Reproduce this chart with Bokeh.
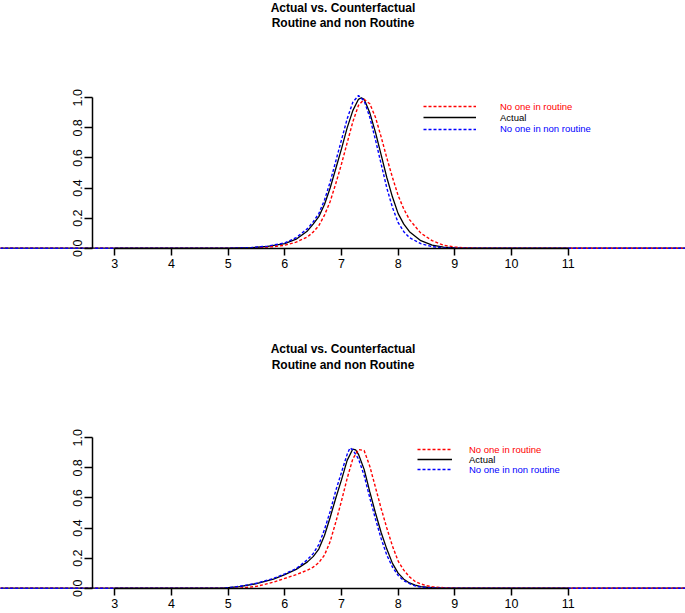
from bokeh.plotting import figure
from bokeh.models import (LinearAxis, FixedTicker, PrintfTickFormatter, Legend,
                          LegendItem, Label, Range1d)
from bokeh.layouts import column
from bokeh.embed import file_html
from bokeh.resources import INLINE

TITLE_1 = "Actual vs. Counterfactual"
TITLE_2 = "Routine and non Routine"
LABEL_RED = "No one in routine"
LABEL_BLACK = "Actual"
LABEL_BLUE = "No one in non routine"
X_TICKS = [3, 4, 5, 6, 7, 8, 9, 10, 11]
Y_TICKS = [0.0, 0.2, 0.4, 0.6, 0.8, 1.0]

# ---- top panel
top_actual_x = [0.8, 5.0, 5.4, 5.7, 6.0, 6.2, 6.4, 6.5, 6.6, 6.7, 6.8, 6.9, 7.0, 7.1, 7.2, 7.3, 7.35, 7.4, 7.5, 7.6,
                7.7, 7.8, 7.9, 8.0, 8.1, 8.2, 8.4, 8.6, 8.8, 9.0, 9.2, 13.2]
top_actual_y = [0, 0, 0.003, 0.012, 0.03, 0.06, 0.115, 0.16, 0.21, 0.29, 0.40, 0.53, 0.66, 0.80, 0.915, 0.99, 1.0, 0.99, 0.90, 0.77,
                0.62, 0.47, 0.34, 0.23, 0.16, 0.11, 0.05, 0.02, 0.007, 0.002, 0, 0]
top_blue_x = [0.8, 5.0, 5.4, 5.7, 6.0, 6.2, 6.4, 6.5, 6.6, 6.7, 6.8, 6.9, 7.0, 7.1, 7.2, 7.3, 7.4, 7.5, 7.6, 7.7,
              7.8, 7.9, 8.0, 8.1, 8.2, 8.4, 8.6, 8.8, 9.0, 13.2]
top_blue_y = [0, 0, 0.004, 0.014, 0.035, 0.07, 0.13, 0.175, 0.23, 0.32, 0.44, 0.58, 0.72, 0.86, 0.97, 1.015, 0.98, 0.87, 0.72, 0.56,
              0.40, 0.27, 0.17, 0.11, 0.07, 0.03, 0.01, 0.003, 0, 0]
top_red_x = [0.8, 5.0, 5.5, 5.8, 6.0, 6.2, 6.4, 6.5, 6.6, 6.7, 6.8, 6.9, 7.0, 7.1, 7.2, 7.3, 7.4, 7.5, 7.6, 7.7,
             7.8, 7.9, 8.0, 8.1, 8.2, 8.4, 8.6, 8.8, 9.0, 9.2, 9.4, 13.2]
top_red_y = [0, 0, 0.003, 0.01, 0.02, 0.04, 0.075, 0.107, 0.15, 0.22, 0.31, 0.43, 0.56, 0.70, 0.84, 0.95, 0.99, 0.96, 0.87, 0.74,
             0.60, 0.47, 0.35, 0.26, 0.19, 0.10, 0.05, 0.02, 0.008, 0.002, 0, 0]

# ---- bottom panel
bot_actual_x = [0.8, 4.9, 5.2, 5.5, 5.8, 6.0, 6.2, 6.4, 6.5, 6.6, 6.7, 6.8, 6.9, 7.0, 7.1, 7.2, 7.25, 7.3, 7.4, 7.5,
                7.6, 7.7, 7.8, 7.9, 8.0, 8.1, 8.2, 8.3, 8.4, 8.6, 8.8, 13.2]
bot_actual_y = [0, 0, 0.01, 0.03, 0.06, 0.09, 0.125, 0.175, 0.21, 0.26, 0.35, 0.47, 0.60, 0.72, 0.85, 0.925, 0.92, 0.89, 0.79, 0.64,
                0.50, 0.37, 0.26, 0.165, 0.10, 0.06, 0.035, 0.02, 0.01, 0.003, 0, 0]
bot_blue_x = [0.8, 4.9, 5.2, 5.5, 5.8, 6.0, 6.2, 6.4, 6.5, 6.6, 6.7, 6.8, 6.9, 7.0, 7.1, 7.15, 7.2, 7.3, 7.4, 7.5,
              7.6, 7.7, 7.8, 7.9, 8.0, 8.1, 8.2, 8.3, 8.4, 8.6, 8.8, 13.2]
bot_blue_y = [0, 0, 0.012, 0.033, 0.065, 0.095, 0.13, 0.19, 0.23, 0.29, 0.39, 0.51, 0.65, 0.77, 0.89, 0.933, 0.92, 0.86, 0.75, 0.60,
              0.46, 0.33, 0.22, 0.14, 0.085, 0.05, 0.03, 0.015, 0.007, 0.002, 0, 0]
bot_red_x = [0.8, 5.2, 5.5, 5.8, 6.0, 6.2, 6.4, 6.5, 6.6, 6.7, 6.8, 6.9, 7.0, 7.1, 7.2, 7.3, 7.4, 7.5, 7.6, 7.7,
             7.8, 7.9, 8.0, 8.1, 8.2, 8.3, 8.4, 8.5, 8.6, 8.8, 9.0, 13.2]
bot_red_y = [0, 0, 0.012, 0.04, 0.065, 0.09, 0.12, 0.14, 0.17, 0.22, 0.31, 0.44, 0.58, 0.73, 0.86, 0.922, 0.915, 0.81, 0.67, 0.53,
             0.40, 0.28, 0.18, 0.12, 0.075, 0.045, 0.028, 0.017, 0.01, 0.003, 0, 0]

W = 685
FONT = "Liberation Sans"
PX_PER_X = 56.67
PX_PER_Y = 150.4
X0_PX = 114.3          # pixel of x = 3
YAXIS_PX = 92.3        # pixel of the y axis line


def make_panel(H, zero_px, title_y, title_gap, actual, red, blue, leg):
    x_start = 3 - X0_PX / PX_PER_X
    x_end = x_start + W / PX_PER_X
    y_end = zero_px / PX_PER_Y
    y_start = -(H - zero_px) / PX_PER_Y
    p = figure(width=W, height=H, output_backend="svg", toolbar_location=None,
               x_axis_type=None, y_axis_type=None,
               x_range=Range1d(x_start, x_end), y_range=Range1d(y_start, y_end),
               min_border=0, min_border_left=0, min_border_right=0,
               min_border_top=0, min_border_bottom=0)
    p.outline_line_color = None
    p.background_fill_color = "white"
    p.border_fill_color = "white"

    xa = LinearAxis(fixed_location=0, bounds=(3, 11), ticker=FixedTicker(ticks=X_TICKS))
    xa.major_tick_in = 0
    xa.major_tick_out = 7
    xa.minor_tick_out = 0
    xa.minor_tick_in = 0
    xa.axis_line_width = 1.5
    xa.major_tick_line_width = 1.5
    xa.major_label_standoff = 4
    xa.major_label_text_font = FONT
    xa.major_label_text_font_size = "12.5px"
    xa.major_label_text_color = "black"
    p.add_layout(xa, "below")

    ya = LinearAxis(fixed_location=3 - (X0_PX - YAXIS_PX) / PX_PER_X, bounds=(0, 1),
                    ticker=FixedTicker(ticks=Y_TICKS), formatter=PrintfTickFormatter(format="%.1f"))
    ya.major_tick_in = 0
    ya.major_tick_out = 8
    ya.minor_tick_out = 0
    ya.minor_tick_in = 0
    ya.axis_line_width = 1.5
    ya.major_tick_line_width = 1.5
    ya.major_label_standoff = 3
    ya.major_label_orientation = "vertical"
    ya.major_label_text_font = FONT
    ya.major_label_text_font_size = "12.5px"
    ya.major_label_text_color = "black"
    p.add_layout(ya, "left")

    r_black = p.line(actual[0], actual[1], line_color="black", line_width=1.3)
    r_red = p.line(red[0], red[1], line_color="red", line_width=1.4, line_dash="3 2")
    r_blue = p.line(blue[0], blue[1], line_color="blue", line_width=1.4, line_dash="3 2")

    for i, txt in enumerate([TITLE_1, TITLE_2]):
        p.add_layout(Label(x=342.5, y=H - (title_y + title_gap * i), x_units="screen", y_units="screen",
                           text=txt, text_align="center", text_baseline="middle",
                           text_font=FONT, text_font_style="bold", text_font_size="12px",
                           text_color="black"))

    gx, gw, standoff, centers = leg
    for (r, lab, col), cy in zip([(r_red, LABEL_RED, "red"), (r_black, LABEL_BLACK, "black"),
                                  (r_blue, LABEL_BLUE, "blue")], centers):
        lg = Legend(items=[LegendItem(label=lab, renderers=[r])],
                    location=(gx, H - cy - 6), orientation="vertical",
                    glyph_width=gw, glyph_height=12, label_height=12, label_width=10,
                    label_standoff=standoff, padding=0, margin=0, spacing=0,
                    border_line_alpha=0, background_fill_alpha=0,
                    label_text_font=FONT, label_text_font_size="9.5px",
                    label_text_color=col)
        p.add_layout(lg)
    return p


p1 = make_panel(340, 247.7, 7, 15.5,
                (top_actual_x, top_actual_y), (top_red_x, top_red_y), (top_blue_x, top_blue_y),
                (423, 53, 24, [106, 117.3, 128.7]))
p2 = make_panel(273, 247.7, 8.5, 16,
                (bot_actual_x, bot_actual_y), (bot_red_x, bot_red_y), (bot_blue_x, bot_blue_y),
                (417, 35, 17, [109, 119, 129.3]))

layout = column(p1, p2, spacing=0)
open("out.html", "w").write(file_html(layout, INLINE))
